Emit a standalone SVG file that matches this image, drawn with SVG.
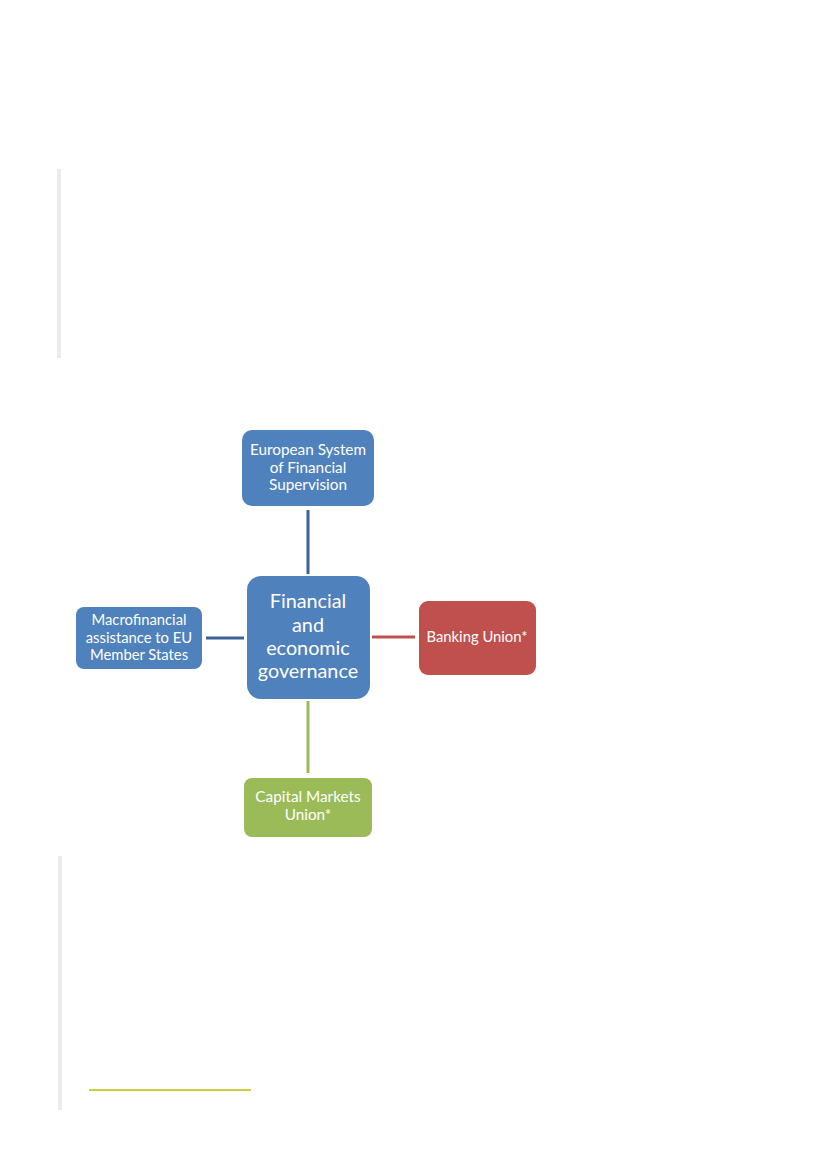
<svg xmlns="http://www.w3.org/2000/svg" width="827" height="1169" viewBox="0 0 827 1169">
<style>
.t{font-family:Lato,"Open Sans",sans-serif;fill:#fff;text-anchor:middle}
.s{font-size:15.3px}
.m{font-size:14.8px}
.l{font-size:19.8px}
.bar{fill:#ebebeb}
</style>
<rect width="827" height="1169" fill="#fff"/>
<rect class="bar" x="57" y="169" width="4" height="189"/>
<rect class="bar" x="58" y="856" width="4" height="254"/>
<line x1="89" y1="1090" x2="251" y2="1090" stroke="#bcbc00" stroke-width="1.6"/>
<g id="connectors" stroke-width="3">
<line x1="308" y1="510" x2="308" y2="574" stroke="#3c6296"/>
<line x1="206" y1="638" x2="244" y2="638" stroke="#3c6296"/>
<line x1="372" y1="637" x2="415" y2="637" stroke="#c0504d"/>
<line x1="308" y1="701" x2="308" y2="773" stroke="#9bbb59"/>
</g>
<g id="esfs">
<rect x="242" y="430" width="132" height="76" rx="10" fill="#4f81bd"/>
<text class="t s" x="308" y="455">European System</text>
<text class="t s" x="308" y="473">of Financial</text>
<text class="t s" x="308" y="490">Supervision</text>
</g>
<g id="center">
<rect x="247" y="576" width="123" height="123" rx="14" fill="#4f81bd"/>
<text class="t l" x="308" y="608">Financial</text>
<text class="t l" x="308" y="632">and</text>
<text class="t l" x="308" y="655">economic</text>
<text class="t l" x="308" y="678">governance</text>
</g>
<g id="macro">
<rect x="76" y="607" width="126" height="62" rx="8" fill="#4f81bd"/>
<text class="t m" x="139" y="625">Macrofinancial</text>
<text class="t m" x="139" y="643">assistance to EU</text>
<text class="t m" x="139" y="660">Member States</text>
</g>
<g id="banking">
<rect x="419" y="601" width="117" height="74" rx="9" fill="#c0504d"/>
<text class="t m" x="477" y="642">Banking Union*</text>
</g>
<g id="cmu">
<rect x="244" y="778" width="128" height="59" rx="8" fill="#9bbb59"/>
<text class="t s" x="308" y="802">Capital Markets</text>
<text class="t s" x="308" y="820">Union*</text>
</g>
</svg>
